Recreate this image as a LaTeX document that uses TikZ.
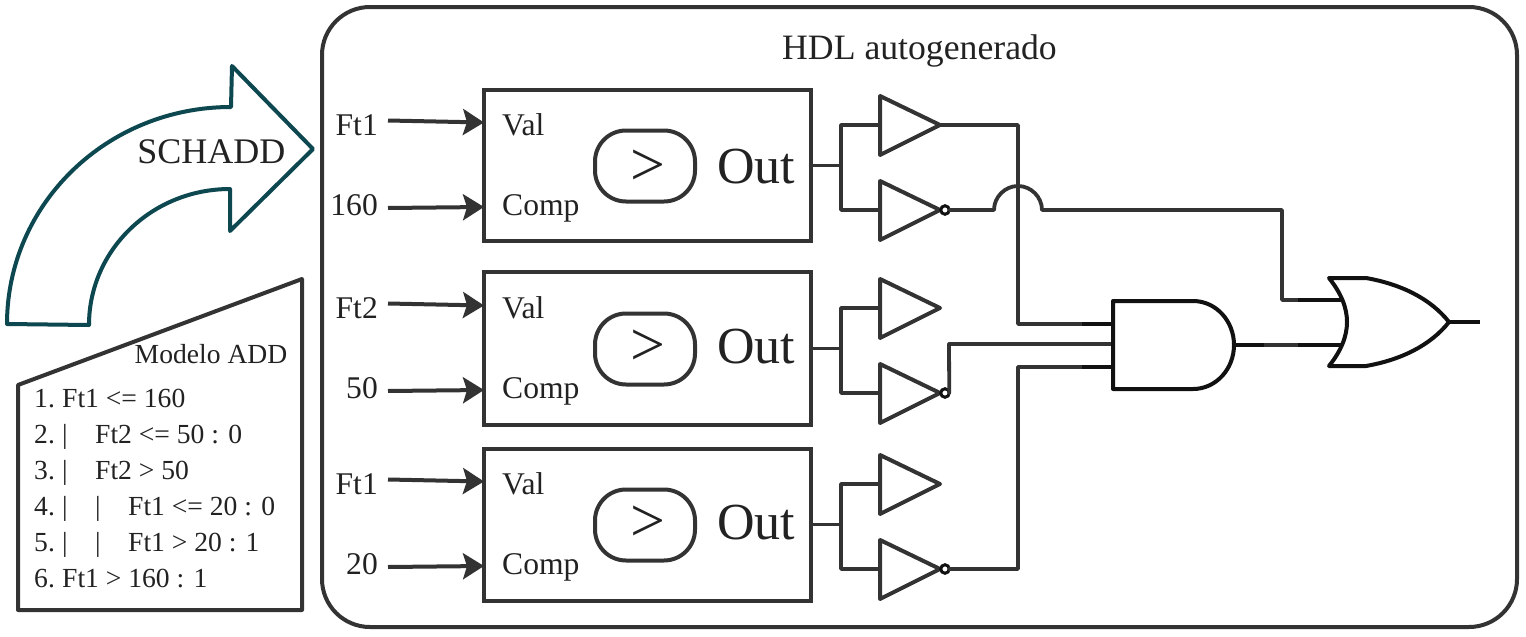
\documentclass[tikz,border=0pt]{standalone}
\usepackage{fontspec}
\setmainfont{Liberation Serif}
\usetikzlibrary{arrows.meta}
\definecolor{ink}{HTML}{333333}
\definecolor{txt}{HTML}{222222}
\definecolor{teal}{HTML}{0D4750}
\definecolor{pin}{HTML}{111111}
\newcommand{\fs}[1]{\fontsize{#1pt}{#1pt}\selectfont}
\newcommand{\lineno}[1]{\makebox[28pt][l]{#1}}
\newcommand{\barcol}{\makebox[33pt][l]{|}}
\tikzset{
  x=1pt,y=-1pt,
  wire/.style={draw=ink,line width=3.8pt,line join=round,line cap=round},
  pinwire/.style={draw=pin,line width=3.8pt,line cap=butt},
  gate/.style={draw=ink,line width=4pt,line join=round,fill=white},
  blockbox/.style={draw=ink,line width=4pt,fill=white,inner sep=0pt,outer sep=0pt,minimum width=327pt},
  cmpbox/.style={draw=ink,line width=4pt,rounded corners=31pt,inner sep=0pt,outer sep=0pt,minimum width=100pt,minimum height=71pt},
  cmpsign/.style={text=txt,inner sep=0pt,font=\fs{62}},
  bubble/.style={circle,draw=pin,line width=3pt,fill=white,inner sep=0pt,outer sep=0pt,minimum size=8.5pt},
  inarrow/.style={draw=ink,line width=4pt,-{Stealth[length=21pt,width=26pt,inset=4pt]}},
  lbl/.style={text=txt,inner sep=0pt,font=\fs{31.6}},
  lst/.style={text=txt,inner sep=0pt,anchor=base west,font=\fs{27.6}},
}
\begin{document}
\begin{tikzpicture}
\useasboundingbox (0,0) rectangle (1526,637);
\fill[white] (0,0) rectangle (1526,637);
% outer frame
\node[draw=ink,line width=4pt,rounded corners=48pt,inner sep=0pt,outer sep=0pt,minimum width=1195pt,minimum height=620pt] (frame) at (919.5,317) {};
\node[text=txt,inner sep=0pt,anchor=base,font=\fs{35.7}] (title) at (919.5,59) {HDL autogenerado};
% curved arrow
\draw[draw=teal,line width=4pt,line join=round] (313,149) -- (232,66) -- (231,107)
  .. controls (107,107) and (7,204) .. (7,324) -- (89,325)
  .. controls (89,250) and (152,189) .. (230,189) -- (230,231) -- cycle;
\node[text=txt,inner sep=0pt,anchor=base east,font=\fs{36}] (schadd) at (285.5,163) {SCHADD};
% model sheet
\draw[draw=ink,line width=4pt,line join=round] (18,385) -- (302,279) -- (302,610) -- (18,610) -- cycle;
\node[lst,anchor=base east] (modelo) at (287.5,363) {Modelo ADD};
\node[lst] (l1) at (34,407) {\lineno{1.}Ft1 <= 160};
\node[lst] (l2) at (34,443) {\lineno{2.}\barcol Ft2 <= 50 : 0};
\node[lst] (l3) at (34,479) {\lineno{3.}\barcol Ft2 > 50};
\node[lst] (l4) at (34,515) {\lineno{4.}\barcol\barcol Ft1 <= 20 : 0};
\node[lst] (l5) at (34,551) {\lineno{5.}\barcol\barcol Ft1 > 20 : 1};
\node[lst] (l6) at (34,587) {\lineno{6.}Ft1 > 160 : 1};
% three comparator rows
\foreach \i/\d/\t/\h/\la/\lb in {1/0/0/151/Ft1/160,2/183/180/153/Ft2/50,3/359/356/152/Ft1/20}{
  \node[blockbox,minimum height=\h pt] (b\i) at (647.5,165.5+\d) {};
  \node[cmpbox] (c\i) at (645,166+\d) {};
  \node[cmpsign] (s\i) at (648,166+\t+2) {>};
  \node[lbl,anchor=base west] (val\i) at (502,135+\d) {Val};
  \node[lbl,anchor=base west] (comp\i) at (502,215.5+\d) {Comp};
  \node[text=txt,inner sep=0pt,anchor=base west,font=\fs{52}] (out\i) at (717,183+\t) {Out};
  \node[lbl,anchor=base east] (la\i) at (378,135+\d) {\la};
  \node[lbl,anchor=base east] (lb\i) at (378,215.5+\d) {\lb};
  \coordinate (sa\i) at (388,120.5+\d);
  \coordinate (ea\i) at (484,122.5+\d);
  \coordinate (sb\i) at (388,208+\d);
  \coordinate (eb\i) at (484,207+\d);
  \draw[inarrow] (sa\i) -- (ea\i);
  \draw[inarrow] (sb\i) -- (eb\i);
  \coordinate (split\i) at (841,165.5+\d);
  \coordinate (bi\i) at (880,125+\d);
  \coordinate (ii\i) at (880,210+\d);
  \coordinate (bo\i) at (940,125+\d);
  \draw[wire] (b\i.east) -- (split\i);
  \draw[wire] (bi\i) -| (split\i) |- (ii\i);
  \draw[gate] (880,96+\d) -- (bo\i) -- (880,155+\d) -- cycle;
  \draw[gate] (880,181+\d) -- (940,210+\d) -- (880,240+\d) -- cycle;
  \node[bubble] (inv\i) at (945,210+\d) {};
}
% wiring between gates
\coordinate (andA) at (1113,324);
\coordinate (andB) at (1113,344);
\coordinate (andC) at (1113,367);
\coordinate (andAp) at (1082,324);
\coordinate (andCp) at (1082,367);
\coordinate (andOut) at (1234,345);
\coordinate (andOutp) at (1264,345);
\coordinate (orA) at (1342,300);
\coordinate (orB) at (1342,345);
\coordinate (orAp) at (1298,300);
\coordinate (orBp) at (1298,345);
\coordinate (orOut) at (1449,322);
\coordinate (end) at (1480,322);
\coordinate (jl) at (994,210);
\coordinate (jr) at (1042,210);
\coordinate (jt) at (1018,186);
\draw[wire] (bo1) -| (1018,324) -- (andAp);
\draw[wire] (inv1.east) -- (jl) .. controls (994,197) and (1005,186) .. (jt)
  .. controls (1031,186) and (1042,197) .. (jr) -| (1282,300) -- (orAp);
\draw[wire] (inv2.east) -- (949,344) -- (andB);
\draw[wire] (inv3.east) -| (1018,367) -- (andCp);
\draw[wire] (andOutp) -- (orBp);
\draw[pinwire] (andAp) -- (andA);
\draw[pinwire] (andCp) -- (andC);
\draw[pinwire] (andOut) -- (andOutp);
\draw[pinwire] (orAp) -- (orA);
\draw[pinwire] (orBp) -- (orB);
\draw[pinwire] (orOut) -- (end);
% AND gate
\draw[draw=pin,line width=4pt,line join=round,fill=white] (1113,301) -- (1193,301)
  .. controls (1216,301) and (1234,321) .. (andOut)
  .. controls (1234,369) and (1216,389) .. (1193,389) -- (1113,389) -- cycle;
% OR gate
\draw[draw=pin,line width=4pt,line join=round,fill=white] (1329,278) -- (1366,278)
  .. controls (1400,284) and (1430,298) .. (orOut)
  .. controls (1430,346) and (1400,360) .. (1366,366) -- (1329,366)
  .. controls (1353,336) and (1353,308) .. cycle;
\end{tikzpicture}
\end{document}
